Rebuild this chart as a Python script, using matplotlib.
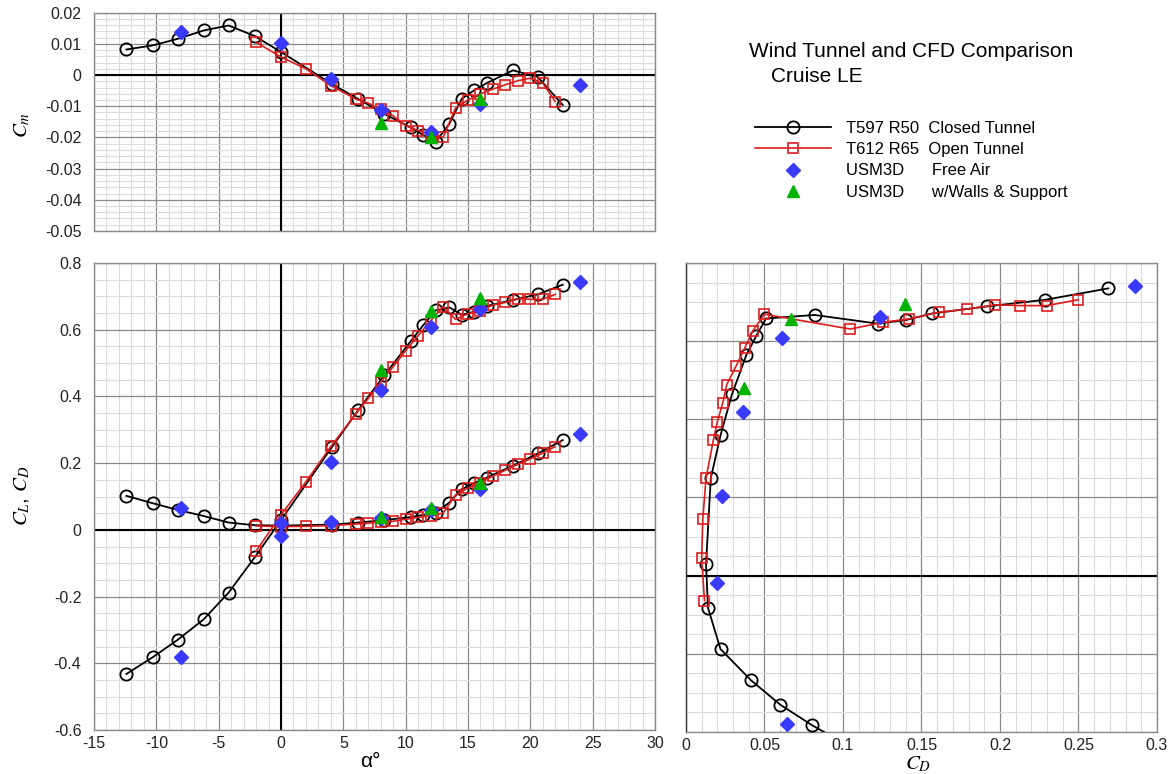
import matplotlib
matplotlib.use("Agg")
import matplotlib.pyplot as plt
from matplotlib.ticker import MultipleLocator, FuncFormatter
from matplotlib.lines import Line2D

plt.rcParams['font.family'] = ['Liberation Sans', 'DejaVu Sans']
plt.rcParams['mathtext.fontset'] = 'stix'
plt.rcParams['axes.unicode_minus'] = False

# T597 R50, closed tunnel
alpha_t597 = [-12.4, -10.3, -8.3, -6.2, -4.2, -2.1, 0.0, 4.1, 6.2, 8.3, 10.4,
              11.4, 12.4, 13.5, 14.5, 15.5, 16.5, 18.6, 20.6, 22.6]
cm_t597 = [0.0082, 0.0095, 0.0116, 0.0143, 0.0159, 0.0125, 0.0074, -0.0029,
           -0.0077, -0.0125, -0.0168, -0.0192, -0.0214, -0.0157, -0.0076,
           -0.0049, -0.0026, 0.0015, -0.0006, -0.0096]
cl_t597 = [-0.432, -0.382, -0.330, -0.268, -0.188, -0.082, 0.029, 0.249,
           0.359, 0.464, 0.565, 0.613, 0.658, 0.667, 0.645, 0.654, 0.671,
           0.689, 0.706, 0.735]
cd_t597 = [0.102, 0.080, 0.060, 0.0415, 0.022, 0.014, 0.0128, 0.0158, 0.022,
           0.0293, 0.0385, 0.0447, 0.051, 0.082, 0.122, 0.140, 0.157, 0.192,
           0.229, 0.269]

# T612 R65, open tunnel
alpha_t612 = [-2, 0, 2, 4, 6, 7, 8, 9, 10, 11, 12, 13, 14, 15, 16, 17, 18,
              19, 20, 21, 22]
cm_t612 = [0.0105, 0.0058, 0.0020, -0.0034, -0.0077, -0.0090, -0.0110,
           -0.0131, -0.0162, -0.0178, -0.0192, -0.0200, -0.0106, -0.0080,
           -0.0060, -0.0045, -0.0031, -0.0018, -0.0010, -0.0026, -0.0085]
cl_t612 = [-0.064, 0.045, 0.144, 0.250, 0.348, 0.394, 0.443, 0.489, 0.537,
           0.582, 0.627, 0.669, 0.631, 0.648, 0.657, 0.674, 0.682, 0.693,
           0.691, 0.691, 0.706]
cd_t612 = [0.0118, 0.0100, 0.0107, 0.0128, 0.0175, 0.0200, 0.0235, 0.0260,
           0.0320, 0.0374, 0.0427, 0.0500, 0.1047, 0.1254, 0.1420, 0.1610,
           0.1790, 0.1966, 0.2130, 0.2300, 0.2498]

# USM3D free air
alpha_fa = [-8, 0, 4, 8, 12, 16, 24]
cm_fa = [0.0139, 0.0103, -0.0013, -0.0113, -0.0182, -0.0092, -0.0031]
cl_fa = [-0.380, -0.018, 0.204, 0.418, 0.607, 0.662, 0.742]
cd_fa = [0.0645, 0.020, 0.0231, 0.0361, 0.0609, 0.1233, 0.2863]

# USM3D with walls and support
alpha_ws = [8, 12, 16]
cm_ws = [-0.0153, -0.0198, -0.0076]
cl_ws = [0.480, 0.656, 0.695]
cd_ws = [0.0372, 0.0667, 0.1397]

labels = ["T597 R50  Closed Tunnel", "T612 R65  Open Tunnel",
          "USM3D      Free Air", "USM3D      w/Walls & Support"]

BLACK = 'black'
RED = '#dd1c1c'
BLUE = '#3a3aff'
GREEN = '#00b400'
MAJOR = '#8a8a8a'
MINOR = '#dcdcdc'

circ = dict(color=BLACK, lw=1.3, marker='o', ms=8.8, mfc='none', mec=BLACK, mew=1.3, zorder=4)
sq = dict(color=RED, lw=1.2, marker='s', ms=7.3, mfc='none', mec=RED, mew=1.2, zorder=5)
dia = dict(ls='none', marker='D', ms=7, color=BLUE, mec=BLUE, zorder=6)
tri = dict(ls='none', marker='^', ms=8, color=GREEN, mec=GREEN, zorder=7)


def fmt(v, pos):
    if abs(v) < 1e-9:
        return '0'
    return '%g' % round(v, 4)


def style(ax, xmaj, xmin, ymaj, ymin):
    ax.xaxis.set_major_locator(MultipleLocator(xmaj))
    ax.xaxis.set_minor_locator(MultipleLocator(xmin))
    ax.yaxis.set_major_locator(MultipleLocator(ymaj))
    ax.yaxis.set_minor_locator(MultipleLocator(ymin))
    ax.grid(which='major', color=MAJOR, lw=0.9, zorder=1)
    ax.grid(which='minor', color=MINOR, lw=0.8, zorder=0)
    ax.set_axisbelow(True)
    ax.tick_params(which='both', length=0, labelsize=11.5, colors='#222222')
    ax.tick_params(axis='y', pad=9)
    ax.tick_params(axis='x', pad=4)
    ax.xaxis.set_major_formatter(FuncFormatter(fmt))
    ax.yaxis.set_major_formatter(FuncFormatter(fmt))
    for sp in ax.spines.values():
        sp.set_color(MAJOR)
        sp.set_linewidth(1.0)


fig = plt.figure(figsize=(11.69, 7.74), dpi=100)

ax_cm = fig.add_axes([0.0804, 0.7016, 0.4799, 0.2820])
ax_cl = fig.add_axes([0.0804, 0.0568, 0.4799, 0.6034])
ax_pol = fig.add_axes([0.5868, 0.0543, 0.4029, 0.6059])

# Cm vs alpha
style(ax_cm, 5, 1, 0.01, 0.002)
ax_cm.set_xlim(-15, 30)
ax_cm.set_ylim(-0.05, 0.02)
ax_cm.axhline(0, color=BLACK, lw=1.5, zorder=2)
ax_cm.axvline(0, color=BLACK, lw=1.5, zorder=2)
ax_cm.plot(alpha_t597, cm_t597, **circ)
ax_cm.plot(alpha_t612, cm_t612, **sq)
ax_cm.plot(alpha_fa, cm_fa, **dia)
ax_cm.plot(alpha_ws, cm_ws, **tri)
ax_cm.tick_params(axis='x', labelbottom=False)

# CL, CD vs alpha
style(ax_cl, 5, 1, 0.2, 0.05)
ax_cl.set_xlim(-15, 30)
ax_cl.set_ylim(-0.6, 0.8)
ax_cl.axhline(0, color=BLACK, lw=1.5, zorder=2)
ax_cl.axvline(0, color=BLACK, lw=1.5, zorder=2)
ax_cl.plot(alpha_t597, cl_t597, **circ)
ax_cl.plot(alpha_t597, cd_t597, **circ)
ax_cl.plot(alpha_t612, cl_t612, **sq)
ax_cl.plot(alpha_t612, cd_t612, **sq)
ax_cl.plot(alpha_fa, cl_fa, **dia)
ax_cl.plot(alpha_fa, cd_fa, **dia)
ax_cl.plot(alpha_ws, cl_ws, **tri)
ax_cl.plot(alpha_ws, cd_ws, **tri)

# drag polar
style(ax_pol, 0.05, 0.01, 0.2, 0.05)
ax_pol.set_xlim(0, 0.3)
ax_pol.set_ylim(-0.4, 0.8)
ax_pol.axhline(0, color=BLACK, lw=1.5, zorder=2)
ax_pol.spines['left'].set_color('#333333')
ax_pol.plot(cd_t597, cl_t597, **circ)
ax_pol.plot(cd_t612, cl_t612, **sq)
ax_pol.plot(cd_fa, cl_fa, **dia)
ax_pol.plot(cd_ws, cl_ws, **tri)
ax_pol.tick_params(axis='y', labelleft=False)

# axis labels
fig.text(0.019, 0.838, r'$C_m$', rotation=90, ha='center', va='center', fontsize=15)
fig.text(0.019, 0.359, r'$C_L$, $C_D$', rotation=90, ha='center', va='center', fontsize=15)
fig.text(0.3165, 0.016, 'α°', ha='center', va='center', fontsize=15)
fig.text(0.785, 0.013, r'$C_D$', ha='center', va='center', fontsize=15)

# title
fig.text(0.6407, 0.9332, 'Wind Tunnel and CFD Comparison', ha='left', va='center', fontsize=15)
fig.text(0.6595, 0.9009, 'Cruise LE', ha='left', va='center', fontsize=15)

handles = [
    Line2D([], [], **circ),
    Line2D([], [], **sq),
    Line2D([], [], **dia),
    Line2D([], [], **tri),
]
fig.legend(handles, labels, loc='upper left', bbox_to_anchor=(0.6455, 0.844),
           frameon=False, fontsize=12, handlelength=4.6, handletextpad=0.9,
           labelspacing=0.38, borderpad=0, borderaxespad=0)

fig.savefig('out.png', dpi=100)
